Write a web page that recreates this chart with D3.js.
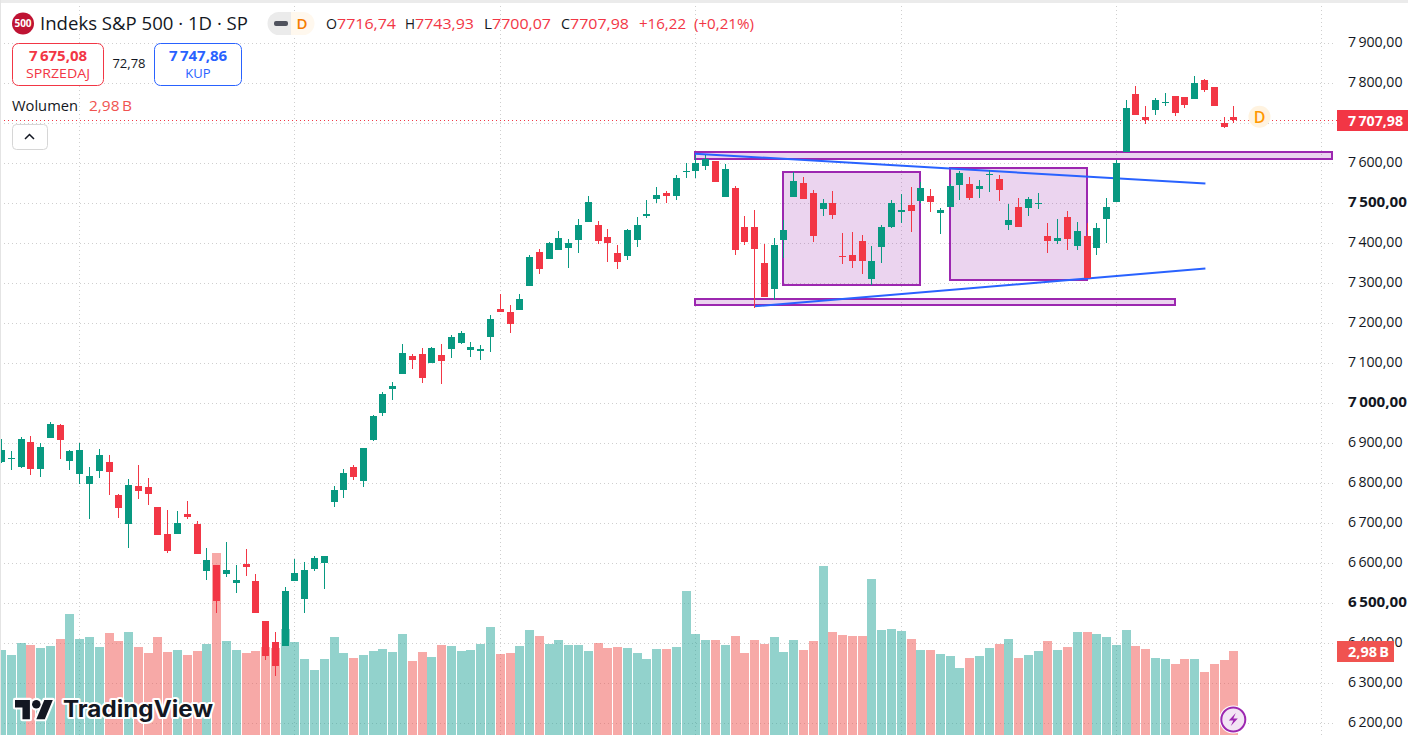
<!DOCTYPE html>
<html><head><meta charset="utf-8">
<script src="https://cdn.jsdelivr.net/npm/d3@7"></script>
<style>html,body{margin:0;padding:0;background:#fff;overflow:hidden}svg{display:block}text{font-family:"Open Sans",Roboto,sans-serif}</style>
</head><body><div id="c"></div>
<script>
const opens=[6853,6861,6841,6903,6836,6913,6946,6856,6823,6798,
6831,6853,6771,6698,6793,6791,6741,6673,6673,6723,
6698,6581,6596,6573,6551,6598,6556,6456,6403,6393,
6556,6511,6586,6601,6753,6783,6841,6806,6908,6976,
7036,7073,7118,7123,7101,7121,7136,7151,7133,7131,
7166,7236,7228,7233,7293,7378,7361,7383,7388,7408,
7453,7446,7416,7376,7368,7408,7468,7511,7526,7518,
7578,7581,7593,7606,7516,7538,7441,7441,7351,7286,
7408,7516,7551,7526,7486,7501,7368,7371,7406,7311,
7391,7441,7478,7496,7506,7518,7476,7491,7546,7548,
7536,7571,7561,7446,7491,7488,7498,7418,7406,7466,
7393,7418,7388,7461,7503,7628,7773,7716,7733,7751,
7768,7766,7761,7808,7791,7701,7716.74];
const closes=[6883,6863,6911,6836,6891,6948,6908,6881,6883,6818,
6871,6828,6738,6796,6781,6773,6671,6631,6701,6716,
6623,6608,6506,6583,6558,6591,6476,6368,6343,6531,
6576,6583,6613,6618,6783,6826,6816,6888,6968,7023,
7043,7126,7108,7063,7138,7106,7166,7176,7141,7136,
7211,7228,7198,7261,7366,7336,7401,7413,7401,7446,
7503,7406,7401,7353,7433,7446,7473,7521,7518,7563,
7581,7601,7611,7553,7586,7383,7403,7386,7266,7396,
7433,7556,7511,7418,7501,7471,7366,7356,7356,7356,
7441,7501,7483,7481,7538,7503,7483,7543,7576,7513,
7543,7573,7533,7458,7441,7511,7501,7406,7413,7411,
7431,7313,7438,7491,7601,7738,7721,7708,7758,7753,
7726,7746,7801,7783,7743,7691,7707.98];
const highs=[6911,6881,6916,6918,6901,6953,6948,6883,6901,6841,
6886,6871,6773,6811,6846,6813,6741,6733,6731,6756,
6706,6638,6596,6653,6596,6636,6573,6456,6428,6541,
6611,6603,6618,6618,6793,6836,6846,6888,6971,7028,
7053,7148,7123,7138,7141,7148,7171,7181,7153,7146,
7221,7273,7246,7273,7371,7386,7403,7431,7411,7461,
7518,7456,7436,7396,7436,7466,7508,7541,7531,7571,
7601,7621,7621,7606,7598,7543,7468,7483,7398,7413,
7458,7578,7566,7533,7511,7531,7426,7428,7421,7393,
7446,7508,7523,7541,7553,7536,7488,7548,7581,7566,
7558,7583,7571,7498,7513,7516,7526,7451,7461,7481,
7453,7451,7451,7513,7608,7758,7793,7743,7763,7776,
7768,7766,7818,7811,7791,7716,7743.93];
const lows=[6851,6833,6838,6821,6816,6913,6861,6833,6798,6711,
6813,6771,6713,6638,6761,6746,6671,6626,6673,6711,
6623,6558,6476,6566,6526,6568,6476,6358,6318,6393,
6556,6476,6581,6536,6741,6763,6808,6791,6906,6968,
7008,7073,7086,7051,7101,7048,7113,7148,7116,7108,
7128,7228,7176,7233,7293,7323,7361,7383,7338,7376,
7453,7398,7353,7336,7358,7391,7463,7501,7501,7508,
7563,7563,7583,7553,7516,7371,7396,7238,7266,7258,
7363,7516,7511,7403,7468,7461,7348,7338,7323,7296,
7351,7438,7451,7428,7501,7478,7423,7491,7508,7508,
7513,7528,7506,7433,7441,7468,7486,7376,7398,7383,
7383,7313,7371,7401,7503,7628,7721,7698,7721,7743,
7718,7738,7761,7778,7743,7688,7700.07];
const volumes=[3.02,2.84,3.26,3.19,3.09,3.16,3.41,4.29,3.41,3.48,
3.12,3.62,3.33,3.65,3.12,2.91,3.48,2.94,3.02,2.84,
2.98,3.23,6.46,3.33,3.02,2.91,2.98,3.12,3.07,3.76,
3.30,2.70,2.31,2.70,3.48,2.91,2.73,2.84,2.98,3.05,
2.94,3.58,2.63,2.94,2.77,3.19,3.16,2.98,3.02,3.23,
3.83,2.87,2.91,3.16,3.72,3.51,3.23,3.37,3.19,3.19,
2.98,3.26,3.09,3.12,3.09,2.91,2.70,3.05,3.05,3.12,
5.11,3.58,3.37,3.37,3.19,3.51,2.91,3.37,3.23,3.48,
2.94,3.37,3.02,3.33,5.99,3.65,3.55,3.51,3.51,5.53,
3.72,3.76,3.69,3.41,3.02,3.02,2.87,2.80,2.38,2.73,
2.80,3.09,3.23,3.41,2.73,2.84,2.98,3.33,3.02,3.12,
3.65,3.65,3.58,3.48,3.19,3.72,3.16,3.05,2.73,2.70,
2.52,2.70,2.70,2.23,2.52,2.66,2.98];
const priceTicks=[6200,6300,6400,6500,6600,6700,6800,6900,7000,7100,7200,7300,7400,7500,7600,7700,7800,7900];
const labelTicks=[6200,6300,6400,6500,6600,6700,6800,6900,7000,7100,7200,7300,7400,7500,7600,7800,7900];
const boldTicks=[6500,7000,7500];
const gridBars=[8,30,51,71,92,114,135];
const zones=[[70.9,136,7628.25,7610.75],[70.9,120,7260.75,7246],[79.9,93.9,7578,7295.75],[97,111,7588,7308]];
const trendlines=[[70.9,7624.5,123.1,7550],[77,7243,123.1,7337.5]];
const lastClose=7707.98, lastVolume=2.98;

const W=1408,H=735,green="#089981",red="#f23645",purple="#9c27b0",blue="#2962ff";
const loc=d3.formatLocale({decimal:",",thousands:"\u2009",grouping:[3],currency:["",""]});
const fmt=loc.format(",.2f");
const x=d3.scaleLinear().domain([0,126]).range([1.5,1233.78]);
const y=d3.scaleLinear().domain([6200,7900]).range([723.5,43.5]);
const yV=d3.scaleLinear().domain([0,1]).range([735,706.81]);
const px=i=>Math.floor(x(i));
const svg=d3.select("#c").append("svg").attr("width",W).attr("height",H).attr("viewBox",`0 0 ${W} ${H}`);

// grid
const gy=svg.append("g").attr("class","gridY").call(d3.axisRight(y).tickValues(priceTicks).tickSize(1334).tickFormat("").offset(0));
gy.select(".domain").remove();
gy.selectAll("line").attr("stroke","#cfcfcf").attr("stroke-dasharray","1 3").attr("shape-rendering","crispEdges");
const gx=svg.append("g").attr("class","gridX").attr("transform","translate(0,735)").call(d3.axisTop(x).tickValues(gridBars).tickSize(732).tickFormat("").offset(0));
gx.select(".domain").remove();
gx.selectAll("line").attr("stroke","#cfcfcf").attr("stroke-dasharray","1 3").attr("shape-rendering","crispEdges");

// volume
const idx=d3.range(closes.length);
const up=i=>closes[i]>=opens[i];
svg.append("g").selectAll("rect").data(idx).join("rect")
 .attr("x",i=>px(i)-4).attr("width",9)
 .attr("y",i=>Math.round(yV(volumes[i]))).attr("height",i=>735-Math.round(yV(volumes[i])))
 .attr("fill",i=>up(i)?"#26a69a":"#ef5350").attr("fill-opacity",.5).attr("shape-rendering","crispEdges");

// zones
svg.append("g").selectAll("rect").data(zones).join("rect")
 .attr("x",d=>Math.round(x(d[0]))).attr("width",d=>Math.round(x(d[1]))-Math.round(x(d[0])))
 .attr("y",d=>Math.round(y(d[2]))).attr("height",d=>Math.round(y(d[3]))-Math.round(y(d[2])))
 .attr("fill",purple).attr("fill-opacity",.2).attr("stroke",purple).attr("stroke-width",2);

// trend lines
svg.append("g").selectAll("line").data(trendlines).join("line")
 .attr("x1",d=>x(d[0])).attr("y1",d=>y(d[1])).attr("x2",d=>x(d[2])).attr("y2",d=>y(d[3]))
 .attr("stroke",blue).attr("stroke-width",2);

// last price dotted
svg.append("line").attr("x1",0).attr("x2",1337).attr("y1",y(lastClose)).attr("y2",y(lastClose))
 .attr("stroke",red).attr("stroke-dasharray","1 3").attr("shape-rendering","crispEdges");

// candles
const cg=svg.append("g").attr("shape-rendering","crispEdges");
cg.selectAll(".w").data(idx).join("rect").attr("class","w")
 .attr("x",i=>px(i)).attr("width",1)
 .attr("y",i=>Math.round(y(highs[i]))).attr("height",i=>Math.max(1,Math.round(y(lows[i]))-Math.round(y(highs[i]))))
 .attr("fill",i=>up(i)?green:red);
cg.selectAll(".b").data(idx).join("rect").attr("class","b")
 .attr("x",i=>px(i)-3).attr("width",7)
 .attr("y",i=>Math.round(y(Math.max(opens[i],closes[i]))))
 .attr("height",i=>Math.max(1,Math.round(y(Math.min(opens[i],closes[i])))-Math.round(y(Math.max(opens[i],closes[i])))))
 .attr("fill",i=>up(i)?green:red);

// price axis labels
const ax=svg.append("g").attr("transform","translate(1341,0)").call(d3.axisRight(y).tickValues(labelTicks).tickSize(0).tickPadding(7).tickFormat(fmt).offset(0));
ax.select(".domain").remove();
ax.selectAll("text").attr("font-size",15).attr("fill","#131722").attr("font-weight",d=>boldTicks.includes(d)?700:400).attr("dy","0.2em")
 .attr("textLength",d=>boldTicks.includes(d)?59:54.5).attr("lengthAdjust","spacingAndGlyphs");

// tags
function tag(yc,h,w,col,t,tw){
 svg.append("rect").attr("x",1337).attr("y",yc-h/2).attr("width",w).attr("height",h).attr("fill",col);
 svg.append("text").attr("x",1348).attr("y",yc+5).attr("font-size",15).attr("font-weight",700).attr("fill","#fff")
  .attr("textLength",tw).attr("lengthAdjust","spacingAndGlyphs").text(t);
}
tag(120.5,21,71,red,fmt(lastClose),55);
tag(651.5,21,57,"#f05350",loc.format(".2f")(lastVolume)+"\u2009B",41);

// D marker
svg.append("circle").attr("cx",1259.5).attr("cy",116.7).attr("r",11).attr("fill","#fff3e0");
svg.append("text").attr("x",1259.5).attr("y",122.5).attr("text-anchor","middle").attr("font-size",16).attr("font-weight",600).attr("fill","#ff9800").text("D");

// lightning
svg.append("circle").attr("cx",1233.3).attr("cy",719.5).attr("r",14).attr("fill","#fff");
svg.append("circle").attr("cx",1233.3).attr("cy",719.5).attr("r",12).attr("fill","#f3e5f5").attr("stroke",purple).attr("stroke-width",2);
svg.append("path").attr("transform","translate(1233.3,719.5)").attr("d","M2.5,-6.5L-4.5,1H0L-2.5,6.5L4.5,-1H0Z").attr("fill",purple);

// frame
svg.append("rect").attr("x",0).attr("y",0).attr("width",W).attr("height",3).attr("fill","#ebebeb");
svg.append("rect").attr("x",0).attr("y",0).attr("width",1).attr("height",H).attr("fill","#e4e4e4");

// header
svg.append("circle").attr("cx",23).attr("cy",23.5).attr("r",11).attr("fill","#bf1333");
svg.append("text").attr("x",23).attr("y",27).attr("text-anchor","middle").attr("font-size",10).attr("font-weight",700).attr("fill","#fff").text("500");
function txt(xp,yp,t,size,col,opt={}){
 const e=svg.append("text").attr("x",xp).attr("y",yp).attr("font-size",size).attr("fill",col).text(t);
 if(opt.w) e.attr("textLength",opt.w).attr("lengthAdjust","spacingAndGlyphs");
 if(opt.weight) e.attr("font-weight",opt.weight);
 if(opt.anchor) e.attr("text-anchor",opt.anchor);
 return e;
}
txt(40,30,"Indeks S&P 500 · 1D · SP",18,"#131722",{w:208});
// status pill
svg.append("path").attr("d","M279,12H291V35H279A11.5,11.5 0 0 1 279,12Z").attr("fill","#ebebeb");
svg.append("path").attr("d","M291,12H303A11.5,11.5 0 0 1 303,35H291Z").attr("fill","#fff8ee");
svg.append("rect").attr("x",274).attr("y",21).attr("width",14).attr("height",5).attr("rx",2).attr("fill","#50535e");
txt(302,29,"D",15,"#f57c00",{anchor:"middle",weight:600});
const ohlc=[[326,"O","7716,74"],[405,"H","7743,93"],[484,"L","7700,07"],[561,"C","7707,98"]];
ohlc.forEach(d=>{
 const lab=d[1]==="L"?9:d[1]==="C"?10:d[1]==="H"?11:12;
 txt(d[0],29,d[1],15,"#131722",{w:lab-1});
 txt(d[0]+lab-1,29,d[2],15,red,{w:59});
});
txt(639,29,"+16,22",15,red,{w:47});
txt(694,29,"(+0,21%)",15,red,{w:60});

// buy / sell
svg.append("rect").attr("x",12.5).attr("y",43.5).attr("width",91).attr("height",42).attr("rx",6).attr("fill","#fff").attr("stroke",red);
txt(58,61,"7\u2009675,08",15,red,{anchor:"middle",weight:700});
txt(26,78,"SPRZEDAJ",13,red,{w:64});
txt(129,68,"72,78",13,"#131722",{anchor:"middle"});
svg.append("rect").attr("x",154.5).attr("y",43.5).attr("width",87).attr("height",42).attr("rx",6).attr("fill","#fff").attr("stroke",blue);
txt(198,61,"7\u2009747,86",15,blue,{anchor:"middle",weight:700});
txt(198,78,"KUP",13,blue,{anchor:"middle"});
txt(12,111,"Wolumen",15,"#131722",{w:66});
txt(89,111,"2,98\u2009B",15,"#f05350",{w:43});
svg.append("rect").attr("x",12.5).attr("y",124.5).attr("width",35).attr("height",25).attr("rx",4).attr("fill","#fff").attr("stroke","#d6d6d6");
svg.append("path").attr("d","M25,139L29.5,134.5L34,139").attr("fill","none").attr("stroke","#131722").attr("stroke-width",1.5);

// logo
const logo=svg.append("g").attr("transform","translate(15,695.7) scale(1.065)");
const lp="M14 22H7V11H0V4h14v18zM28 22h-8l7.5-18h8L28 22z";
logo.append("path").attr("d",lp).attr("fill","#fff").attr("stroke","#fff").attr("stroke-width",4).attr("stroke-linejoin","round");
logo.append("circle").attr("cx",20).attr("cy",8).attr("r",4).attr("fill","#fff").attr("stroke","#fff").attr("stroke-width",4);
logo.append("path").attr("d",lp).attr("fill","#131722");
logo.append("circle").attr("cx",20).attr("cy",8).attr("r",4).attr("fill","#131722");
svg.append("text").attr("x",63).attr("y",717).attr("font-size",22.5).attr("font-weight",700).attr("textLength",150).attr("lengthAdjust","spacingAndGlyphs")
 .attr("fill","#131722").attr("stroke","#fff").attr("stroke-width",4).attr("stroke-linejoin","round").attr("paint-order","stroke").style("font-family","Inter").text("TradingView");
</script></body></html>
